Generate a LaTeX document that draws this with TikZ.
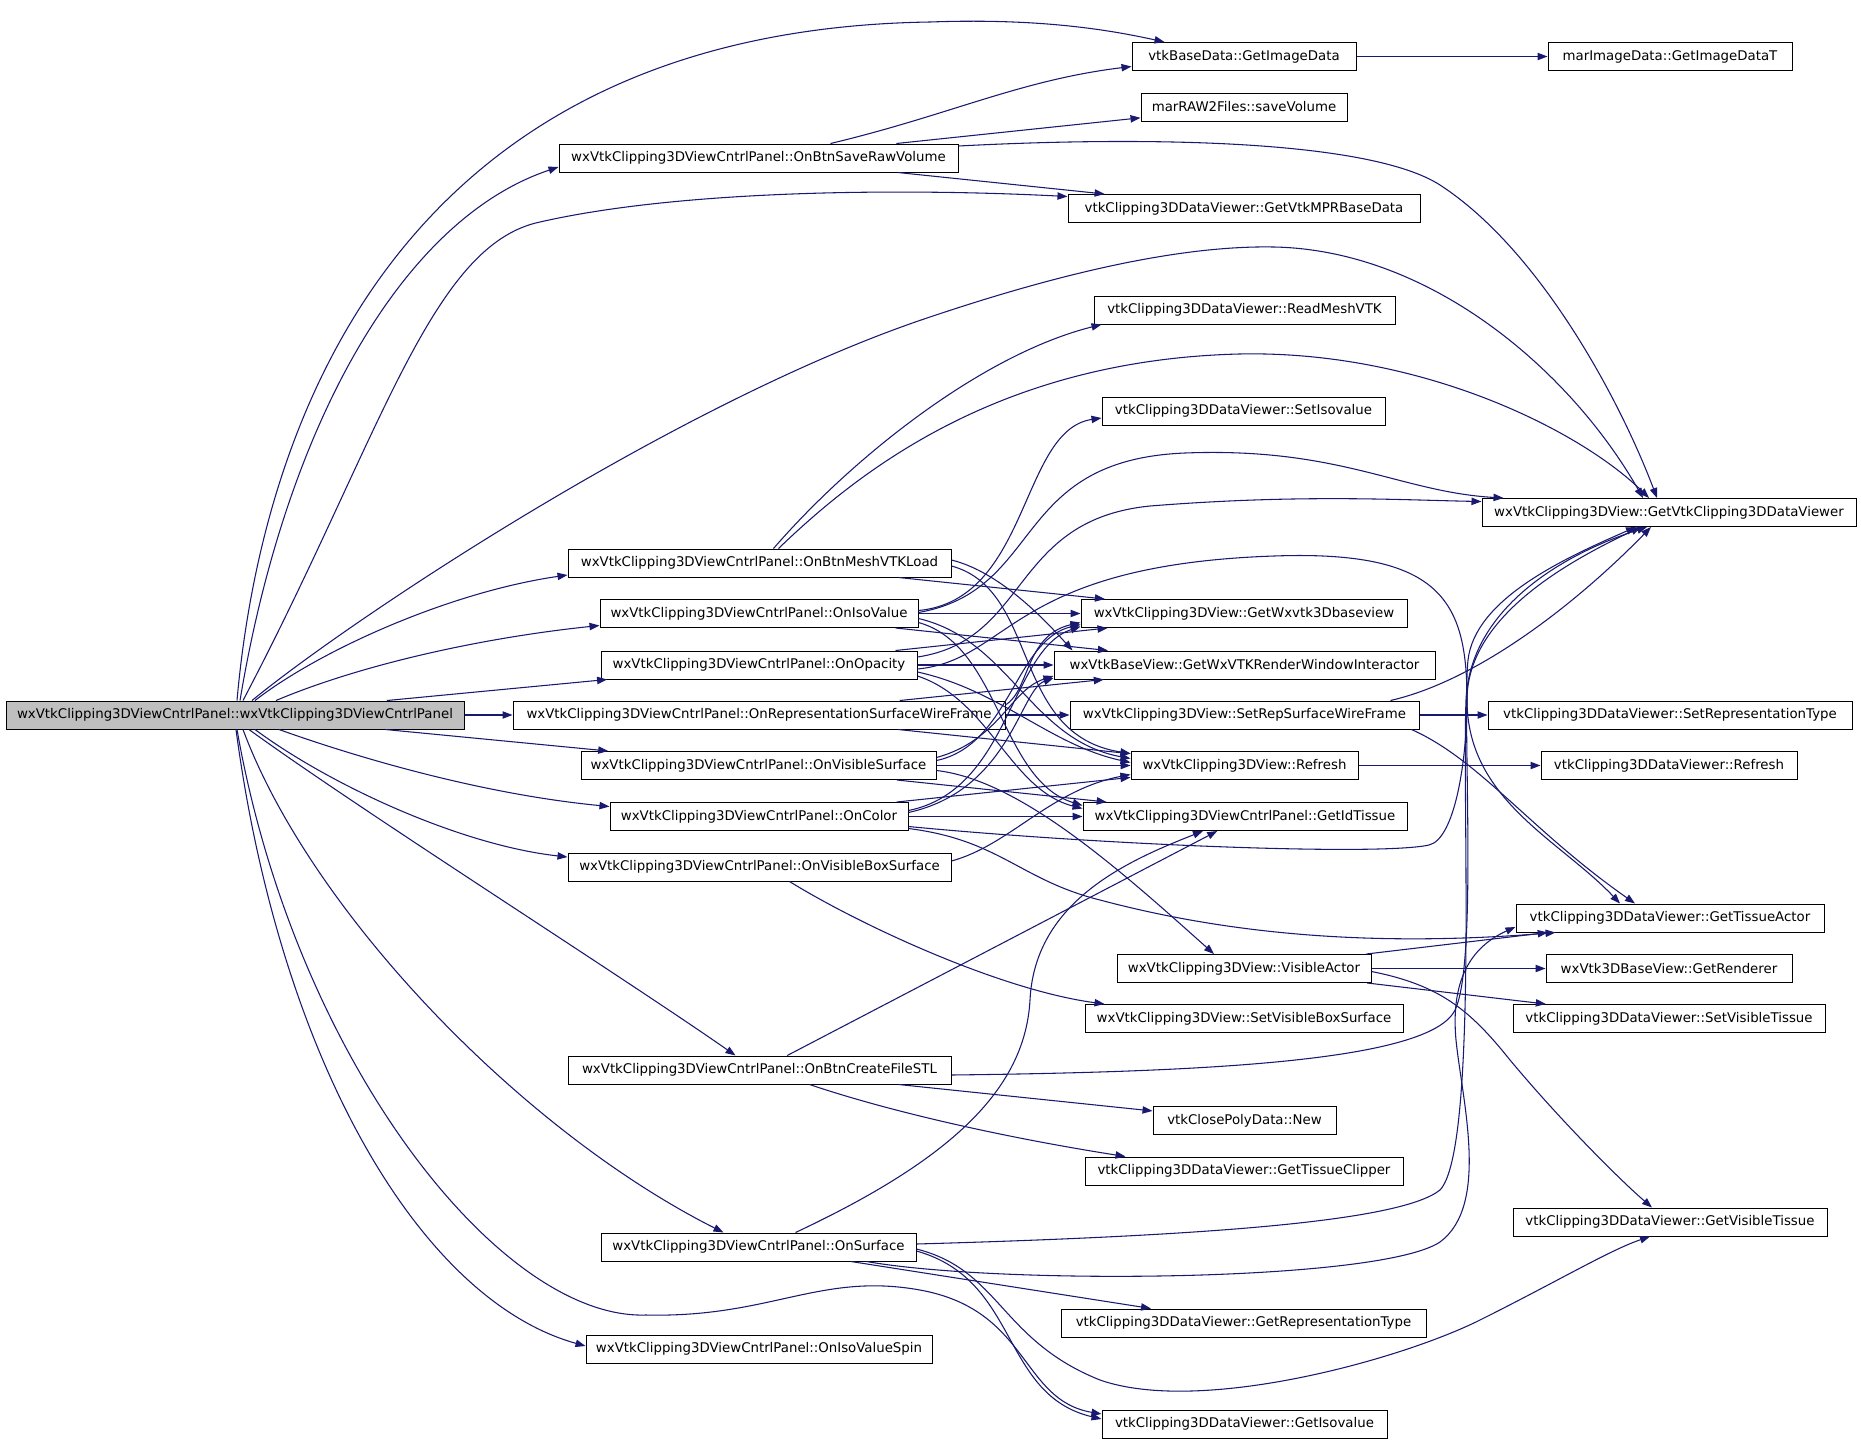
\documentclass[tikz,border=0pt]{standalone}
\usepackage{fontspec}
\setmainfont{DejaVu Sans}
\usetikzlibrary{arrows.meta,calc}
\definecolor{edgec}{HTML}{191970}
\definecolor{mainfill}{HTML}{BFBFBF}
\tikzset{
  fn/.style={draw=black, line width=0.75pt, rectangle, inner sep=1pt, minimum height=21pt, fill=white, font=\fontsize{10pt}{12pt}\selectfont},
  bw/.style={minimum width=#1*0.75pt},
  e/.style={draw=edgec, line width=0.8pt, -{Triangle[length=7.5pt,width=5.5pt]}},
}
\begin{document}
\begin{tikzpicture}[x=0.75pt,y=-0.75pt]
\useasboundingbox (0,0) rectangle (1861,1443);
\fill[white] (0,0) rectangle (1861,1443);
% nodes
\node[fn,bw=458,fill=mainfill] (M) at (235,715) {wxVtkClipping3DViewCntrlPanel::wxVtkClipping3DViewCntrlPanel};
\node[fn,bw=224] (GID) at (1244,56.5) {vtkBaseData::GetImageData};
\node[fn,bw=244] (MIT) at (1670,56.5) {marImageData::GetImageDataT};
\node[fn,bw=206] (SV) at (1244,107) {marRAW2Files::saveVolume};
\node[fn,bw=399] (S) at (758.5,158) {wxVtkClipping3DViewCntrlPanel::OnBtnSaveRawVolume};
\node[fn,bw=352] (MPR) at (1244,208.5) {vtkClipping3DDataViewer::GetVtkMPRBaseData};
\node[fn,bw=301] (RM) at (1244.5,310) {vtkClipping3DDataViewer::ReadMeshVTK};
\node[fn,bw=283] (SI) at (1243.5,411) {vtkClipping3DDataViewer::SetIsovalue};
\node[fn,bw=374] (GV) at (1669,512.5) {wxVtkClipping3DView::GetVtkClipping3DDataViewer};
\node[fn,bw=383] (L) at (759.5,563) {wxVtkClipping3DViewCntrlPanel::OnBtnMeshVTKLoad};
\node[fn,bw=318] (IV) at (759,613.5) {wxVtkClipping3DViewCntrlPanel::OnIsoValue};
\node[fn,bw=326] (W3) at (1244,613.5) {wxVtkClipping3DView::GetWxvtk3Dbaseview};
\node[fn,bw=316] (OP) at (759,665) {wxVtkClipping3DViewCntrlPanel::OnOpacity};
\node[fn,bw=381] (IN) at (1244.5,665) {wxVtkBaseView::GetWxVTKRenderWindowInteractor};
\node[fn,bw=492] (RSW) at (759,715) {wxVtkClipping3DViewCntrlPanel::OnRepresentationSurfaceWireFrame};
\node[fn,bw=349] (SR) at (1244.5,715) {wxVtkClipping3DView::SetRepSurfaceWireFrame};
\node[fn,bw=364] (RT) at (1670,715) {vtkClipping3DDataViewer::SetRepresentationType};
\node[fn,bw=355] (VS) at (758.5,765.5) {wxVtkClipping3DViewCntrlPanel::OnVisibleSurface};
\node[fn,bw=227] (RF) at (1244.5,765.5) {wxVtkClipping3DView::Refresh};
\node[fn,bw=256] (VR) at (1669,765.5) {vtkClipping3DDataViewer::Refresh};
\node[fn,bw=298] (CO) at (759,816.5) {wxVtkClipping3DViewCntrlPanel::OnColor};
\node[fn,bw=324] (IT) at (1245,816.5) {wxVtkClipping3DViewCntrlPanel::GetIdTissue};
\node[fn,bw=383] (VB) at (759.5,867) {wxVtkClipping3DViewCntrlPanel::OnVisibleBoxSurface};
\node[fn,bw=308] (TA) at (1670,918) {vtkClipping3DDataViewer::GetTissueActor};
\node[fn,bw=254] (VA) at (1244,968.5) {wxVtkClipping3DView::VisibleActor};
\node[fn,bw=246] (GR) at (1669,968.5) {wxVtk3DBaseView::GetRenderer};
\node[fn,bw=318] (SB) at (1244,1018.5) {wxVtkClipping3DView::SetVisibleBoxSurface};
\node[fn,bw=312] (ST) at (1669,1018.5) {vtkClipping3DDataViewer::SetVisibleTissue};
\node[fn,bw=383] (STL) at (759.5,1070) {wxVtkClipping3DViewCntrlPanel::OnBtnCreateFileSTL};
\node[fn,bw=183] (NW) at (1244.5,1120.5) {vtkClosePolyData::New};
\node[fn,bw=318] (TC) at (1244,1171) {vtkClipping3DDataViewer::GetTissueClipper};
\node[fn,bw=314] (VT) at (1670,1222) {vtkClipping3DDataViewer::GetVisibleTissue};
\node[fn,bw=315] (SU) at (758.5,1247) {wxVtkClipping3DViewCntrlPanel::OnSurface};
\node[fn,bw=365] (RTy) at (1243.5,1323) {vtkClipping3DDataViewer::GetRepresentationType};
\node[fn,bw=346] (SP) at (759,1349) {wxVtkClipping3DViewCntrlPanel::OnIsoValueSpin};
\node[fn,bw=285] (GI) at (1244.5,1424) {vtkClipping3DDataViewer::GetIsovalue};
% edges from main
\draw[e] ($(M.north)+(2,0)$) .. controls (262,420) and (400,30) .. (930,22) .. controls (1040,18) and (1110,30) .. ($(GID.north west)+(33,0)$);
\draw[e] ($(M.north)+(5,0)$) .. controls (285,430) and (400,220) .. ($(S.west)+(0,9)$);
\draw[e] ($(M.north)+(8,0)$) .. controls (380,440) and (430,245) .. (540,222) .. controls (680,190) and (900,188) .. ($(MPR.west)+(0,-12)$);
\draw[e] ($(M.north)+(17,0)$) .. controls (350,620) and (680,400) .. (930,317) .. controls (1040,280) and (1170,245) .. (1274,247) .. controls (1430,250) and (1570,370) .. ($(GV.north)+(-26,0)$);
\draw[e] ($(M.north)+(20,0)$) .. controls (320,650) and (450,592) .. ($(L.west)+(0,12)$);
\draw[e] ($(M.north)+(41,0)$) .. controls (360,665) and (480,638) .. ($(IV.west)+(0,12)$);
\draw[e] (M) -- (OP);
\draw[e] (M) -- (RSW);
\draw[e] (M) -- (VS);
\draw[e] ($(M.south)+(44,0)$) .. controls (370,762) and (490,795) .. ($(CO.west)+(0,-10)$);
\draw[e] ($(M.south)+(20,0)$) .. controls (330,785) and (460,845) .. ($(VB.west)+(0,-10)$);
\draw[e] ($(M.south)+(14,0)$) .. controls (360,810) and (620,975) .. ($(STL.north)+(-24,0)$);
\draw[e] ($(M.south)+(8,0)$) .. controls (310,910) and (520,1130) .. ($(SU.north)+(-35,0)$);
\draw[e] ($(M.south)+(2,0)$) .. controls (295,1060) and (500,1320) .. (646,1315) .. controls (770,1318) and (820,1272) .. (920,1290) .. controls (1030,1310) and (1020,1400) .. ($(GI.west)+(0,-10)$);
\draw[e] ($(M.south)+(1,0)$) .. controls (280,1060) and (420,1300) .. ($(SP.west)+(0,-3)$);
% OnBtnSaveRawVolume
\draw[e] ($(S.north)+(72,0)$) .. controls (950,115) and (1020,80) .. ($(GID.west)+(0,10)$);
\draw[e] (S) -- (SV);
\draw[e] ($(S.east)+(0,-12)$) .. controls (1150,136) and (1370,140) .. (1440,185) .. controls (1540,250) and (1620,400) .. ($(GV.north)+(-12,0)$);
\draw[e] (S) -- (MPR);
% OnBtnMeshVTKLoad
\draw[e] ($(L.north)+(14,0)$) .. controls (850,460) and (980,355) .. ($(RM.south west)+(8,0)$);
\draw[e] ($(L.north)+(19,0)$) .. controls (860,470) and (1000,360) .. (1239,354) .. controls (1420,350) and (1580,430) .. ($(GV.north)+(-20,0)$);
\draw[e] (L) -- (W3);
\draw[e] ($(L.east)+(0,-3)$) .. controls (1000,572) and (1045,620) .. ($(IN.north west)+(19,0)$);
\draw[e] ($(L.east)+(0,3)$) .. controls (1040,590) and (1010,735) .. ($(RF.west)+(0,-12)$);
% OnIsoValue
\draw[e] ($(IV.east)+(0,-3)$) .. controls (1030,600) and (1020,430) .. ($(SI.west)+(0,7)$);
\draw[e] ($(IV.east)+(0,-1)$) .. controls (1045,590) and (1010,460) .. (1185,453) .. controls (1340,447) and (1400,492) .. ($(GV.north west)+(22,0)$);
\draw[e] (IV) -- (W3);
\draw[e] (IV) -- (IN);
\draw[e] ($(IV.east)+(0,5)$) .. controls (1010,640) and (1030,740) .. ($(RF.west)+(0,-7)$);
\draw[e] ($(IV.east)+(0,9)$) .. controls (1000,645) and (1000,780) .. ($(IT.west)+(0,-11)$);
% OnOpacity
\draw[e] ($(OP.east)+(0,-8)$) .. controls (1030,640) and (1010,520) .. (1150,506) .. controls (1300,494) and (1400,500) .. ($(GV.west)+(0,-11)$);
\draw[e] ($(OP.east)+(0,4)$) .. controls (1010,660) and (1010,565) .. (1274,556) .. controls (1440,550) and (1467,600) .. (1467,700) .. controls (1467,800) and (1560,840) .. ($(TA.north)+(-50,0)$);
\draw[e] (OP) -- (W3);
\draw[e] (OP) -- (IN);
\draw[e] ($(OP.east)+(0,7)$) .. controls (1000,690) and (1050,745) .. ($(RF.west)+(0,-3)$);
\draw[e] ($(OP.east)+(0,11)$) .. controls (990,700) and (1010,790) .. ($(IT.west)+(0,-8)$);
% OnRepresentationSurfaceWireFrame
\draw[e] (RSW) -- (SR);
\draw[e] ($(RSW.east)+(0,-10)$) .. controls (1030,690) and (1025,635) .. ($(W3.west)+(0,9)$);
\draw[e] (RSW) -- (IN);
\draw[e] (RSW) -- (RF);
% OnVisibleSurface
\draw[e] ($(VS.east)+(0,5)$) .. controls (1020,780) and (1120,870) .. ($(VA.north)+(-30,0)$);
\draw[e] (VS) -- (IT);
\draw[e] (VS) -- (RF);
\draw[e] ($(VS.east)+(0,-5)$) .. controls (1010,745) and (1015,640) .. ($(W3.west)+(0,11)$);
\draw[e] ($(VS.east)+(0,-8)$) .. controls (1000,740) and (1010,690) .. ($(IN.west)+(0,11)$);
% OnColor
\draw[e] (CO) -- (IT);
\draw[e] ($(CO.east)+(0,10)$) .. controls (1100,845) and (1380,856) .. (1429,845) .. controls (1455,839) and (1467,760) .. (1467,700) .. controls (1467,620) and (1560,565) .. ($(GV.south)+(-28,0)$);
\draw[e] ($(CO.east)+(0,12)$) .. controls (1000,840) and (1020,880) .. (1100,900) .. controls (1250,940) and (1400,945) .. ($(TA.south west)+(40,0)$);
\draw[e] ($(CO.east)+(0,-6)$) .. controls (1010,790) and (1010,650) .. ($(W3.west)+(0,13)$);
\draw[e] ($(CO.east)+(0,-4)$) .. controls (1010,790) and (1020,690) .. ($(IN.west)+(0,13)$);
\draw[e] (CO) -- (RF);
% OnVisibleBoxSurface
\draw[e] ($(VB.south)+(30,0)$) .. controls (860,925) and (1000,990) .. ($(SB.north west)+(20,0)$);
\draw[e] ($(VB.east)+(0,-6)$) .. controls (1010,845) and (1050,790) .. ($(RF.west)+(0,9)$);
% OnBtnCreateFileSTL
\draw[e] (STL) -- (IT);
\draw[e] ($(STL.east)+(0,5)$) .. controls (1200,1072) and (1430,1062) .. (1455,1010) .. controls (1478,963) and (1462,720) .. (1468,660) .. controls (1475,600) and (1560,560) .. ($(GV.south)+(-33,0)$);
\draw[e] (STL) -- (NW);
\draw[e] ($(STL.south)+(50,0)$) .. controls (900,1115) and (1020,1140) .. ($(TC.north west)+(41,0)$);
% OnSurface
\draw[e] ($(SU.north)+(37,0)$) .. controls (950,1160) and (1025,1090) .. (1030,1000) .. controls (1035,900) and (1130,860) .. ($(IT.south)+(-42,0)$);
\draw[e] ($(SU.east)+(0,-3)$) .. controls (1200,1236) and (1400,1222) .. (1440,1190) .. controls (1478,1150) and (1462,800) .. (1466,700) .. controls (1470,610) and (1560,555) .. ($(GV.south)+(-22,0)$);
\draw[e] ($(SU.south)+(108,0)$) .. controls (1000,1285) and (1380,1282) .. (1440,1242) .. controls (1490,1205) and (1462,1100) .. (1456,1040) .. controls (1450,975) and (1475,945) .. ($(TA.west)+(0,9)$);
\draw[e] ($(SU.east)+(0,2)$) .. controls (1000,1270) and (1000,1340) .. (1100,1380) .. controls (1200,1415) and (1400,1360) .. (1480,1320) .. controls (1560,1280) and (1610,1250) .. ($(VT.south)+(-20,0)$);
\draw[e] (SU) -- (RTy);
\draw[e] ($(SU.east)+(0,4)$) .. controls (1020,1280) and (1000,1395) .. ($(GI.west)+(0,-5)$);
% second rank
\draw[e] (GID) -- (MIT);
\draw[e] (SR) -- (RT);
\draw[e] ($(SR.north east)+(-29,0)$) .. controls (1480,680) and (1580,600) .. ($(GV.south)+(-18,0)$);
\draw[e] ($(SR.south east)+(-8,0)$) .. controls (1480,760) and (1530,830) .. ($(TA.north)+(-35,0)$);
\draw[e] (RF) -- (VR);
\draw[e] (VA) -- (TA);
\draw[e] (VA) -- (GR);
\draw[e] (VA) -- (ST);
\draw[e] ($(VA.east)+(0,3)$) .. controls (1440,985) and (1470,1010) .. (1510,1060) .. controls (1560,1120) and (1620,1180) .. ($(VT.north)+(-18,0)$);
\end{tikzpicture}
\end{document}
